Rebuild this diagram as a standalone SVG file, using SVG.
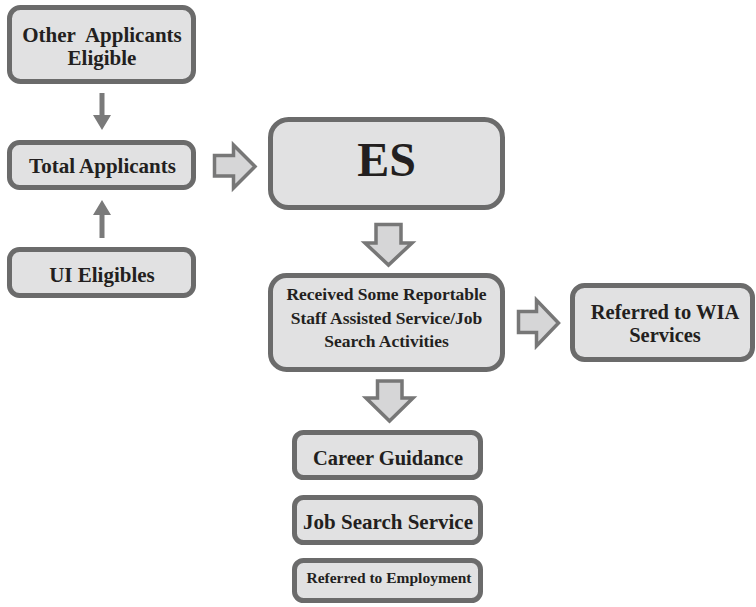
<svg xmlns="http://www.w3.org/2000/svg" width="756" height="607" viewBox="0 0 756 607">
<style>
.box{fill:#e1e1e2;stroke:#6b6b6b;stroke-width:5}
.t{font-family:"Liberation Serif","Times New Roman",serif;font-weight:bold;fill:#231f20;text-anchor:middle}
.blk{fill:#d6d6d7;stroke:#777777;stroke-width:3.5;stroke-linejoin:miter}
.thin{fill:#7a7a7a}
</style>
<rect width="756" height="607" fill="#ffffff"/>
<g id="connectors">
<polygon class="thin" points="99.5,93 104.5,93 104.5,115 111,115 102,130 93,115 99.5,115"/>
<polygon class="thin" points="99.5,238 104.5,238 104.5,215 111,215 102,200 93,215 99.5,215"/>
<polygon class="blk" points="214.5,155.5 233.5,155.5 233.5,145 255,166.5 233.5,188 233.5,176 214.5,176"/>
<polygon class="blk" points="376,224.5 401,224.5 401,243 412,243 388.5,265 365,243 376,243"/>
<polygon class="blk" points="518.5,311.5 536.5,311.5 536.5,300 558.5,323 536.5,346 536.5,332.5 518.5,332.5"/>
<polygon class="blk" points="377.5,381 402,381 402,398 413,398 389.5,421 366,398 377.5,398"/>
</g>
<g id="other-applicants">
<rect class="box" x="9.5" y="7.5" width="184" height="74" rx="11"/>
<text class="t" x="102" y="42" font-size="21" xml:space="preserve">Other  Applicants</text>
<text class="t" x="102" y="65" font-size="21">Eligible</text>
</g>
<g id="total-applicants">
<rect class="box" x="9.5" y="142.5" width="184" height="45" rx="10"/>
<text class="t" x="102.5" y="173" font-size="21">Total Applicants</text>
</g>
<g id="ui-eligibles">
<rect class="box" x="9.5" y="249.5" width="184" height="46" rx="10"/>
<text class="t" x="102" y="282" font-size="21">UI Eligibles</text>
</g>
<g id="es">
<rect class="box" x="270.5" y="119.5" width="232" height="88" rx="18"/>
<text class="t" x="386.5" y="176" font-size="48">ES</text>
</g>
<g id="received">
<rect class="box" x="270.5" y="275.5" width="232" height="94" rx="16"/>
<text class="t" x="386.5" y="300" font-size="17.5">Received Some Reportable</text>
<text class="t" x="386.5" y="323.5" font-size="17.5">Staff Assisted Service/Job</text>
<text class="t" x="386.5" y="347" font-size="17.5">Search Activities</text>
</g>
<g id="referred-wia">
<rect class="box" x="572.5" y="285.5" width="180" height="74" rx="12"/>
<text class="t" x="665" y="319" font-size="20.5">Referred to WIA</text>
<text class="t" x="665" y="342" font-size="20.5">Services</text>
</g>
<g id="career-guidance">
<rect class="box" x="294.5" y="432.5" width="186" height="45" rx="9"/>
<text class="t" x="388" y="465" font-size="20.5">Career Guidance</text>
</g>
<g id="job-search">
<rect class="box" x="294.5" y="497.5" width="186" height="45" rx="9"/>
<text class="t" x="388" y="529" font-size="21">Job Search Service</text>
</g>
<g id="referred-employment">
<rect class="box" x="294.5" y="560.5" width="186" height="40" rx="9"/>
<text class="t" x="389" y="583" font-size="15.5">Referred to Employment</text>
</g>
</svg>
